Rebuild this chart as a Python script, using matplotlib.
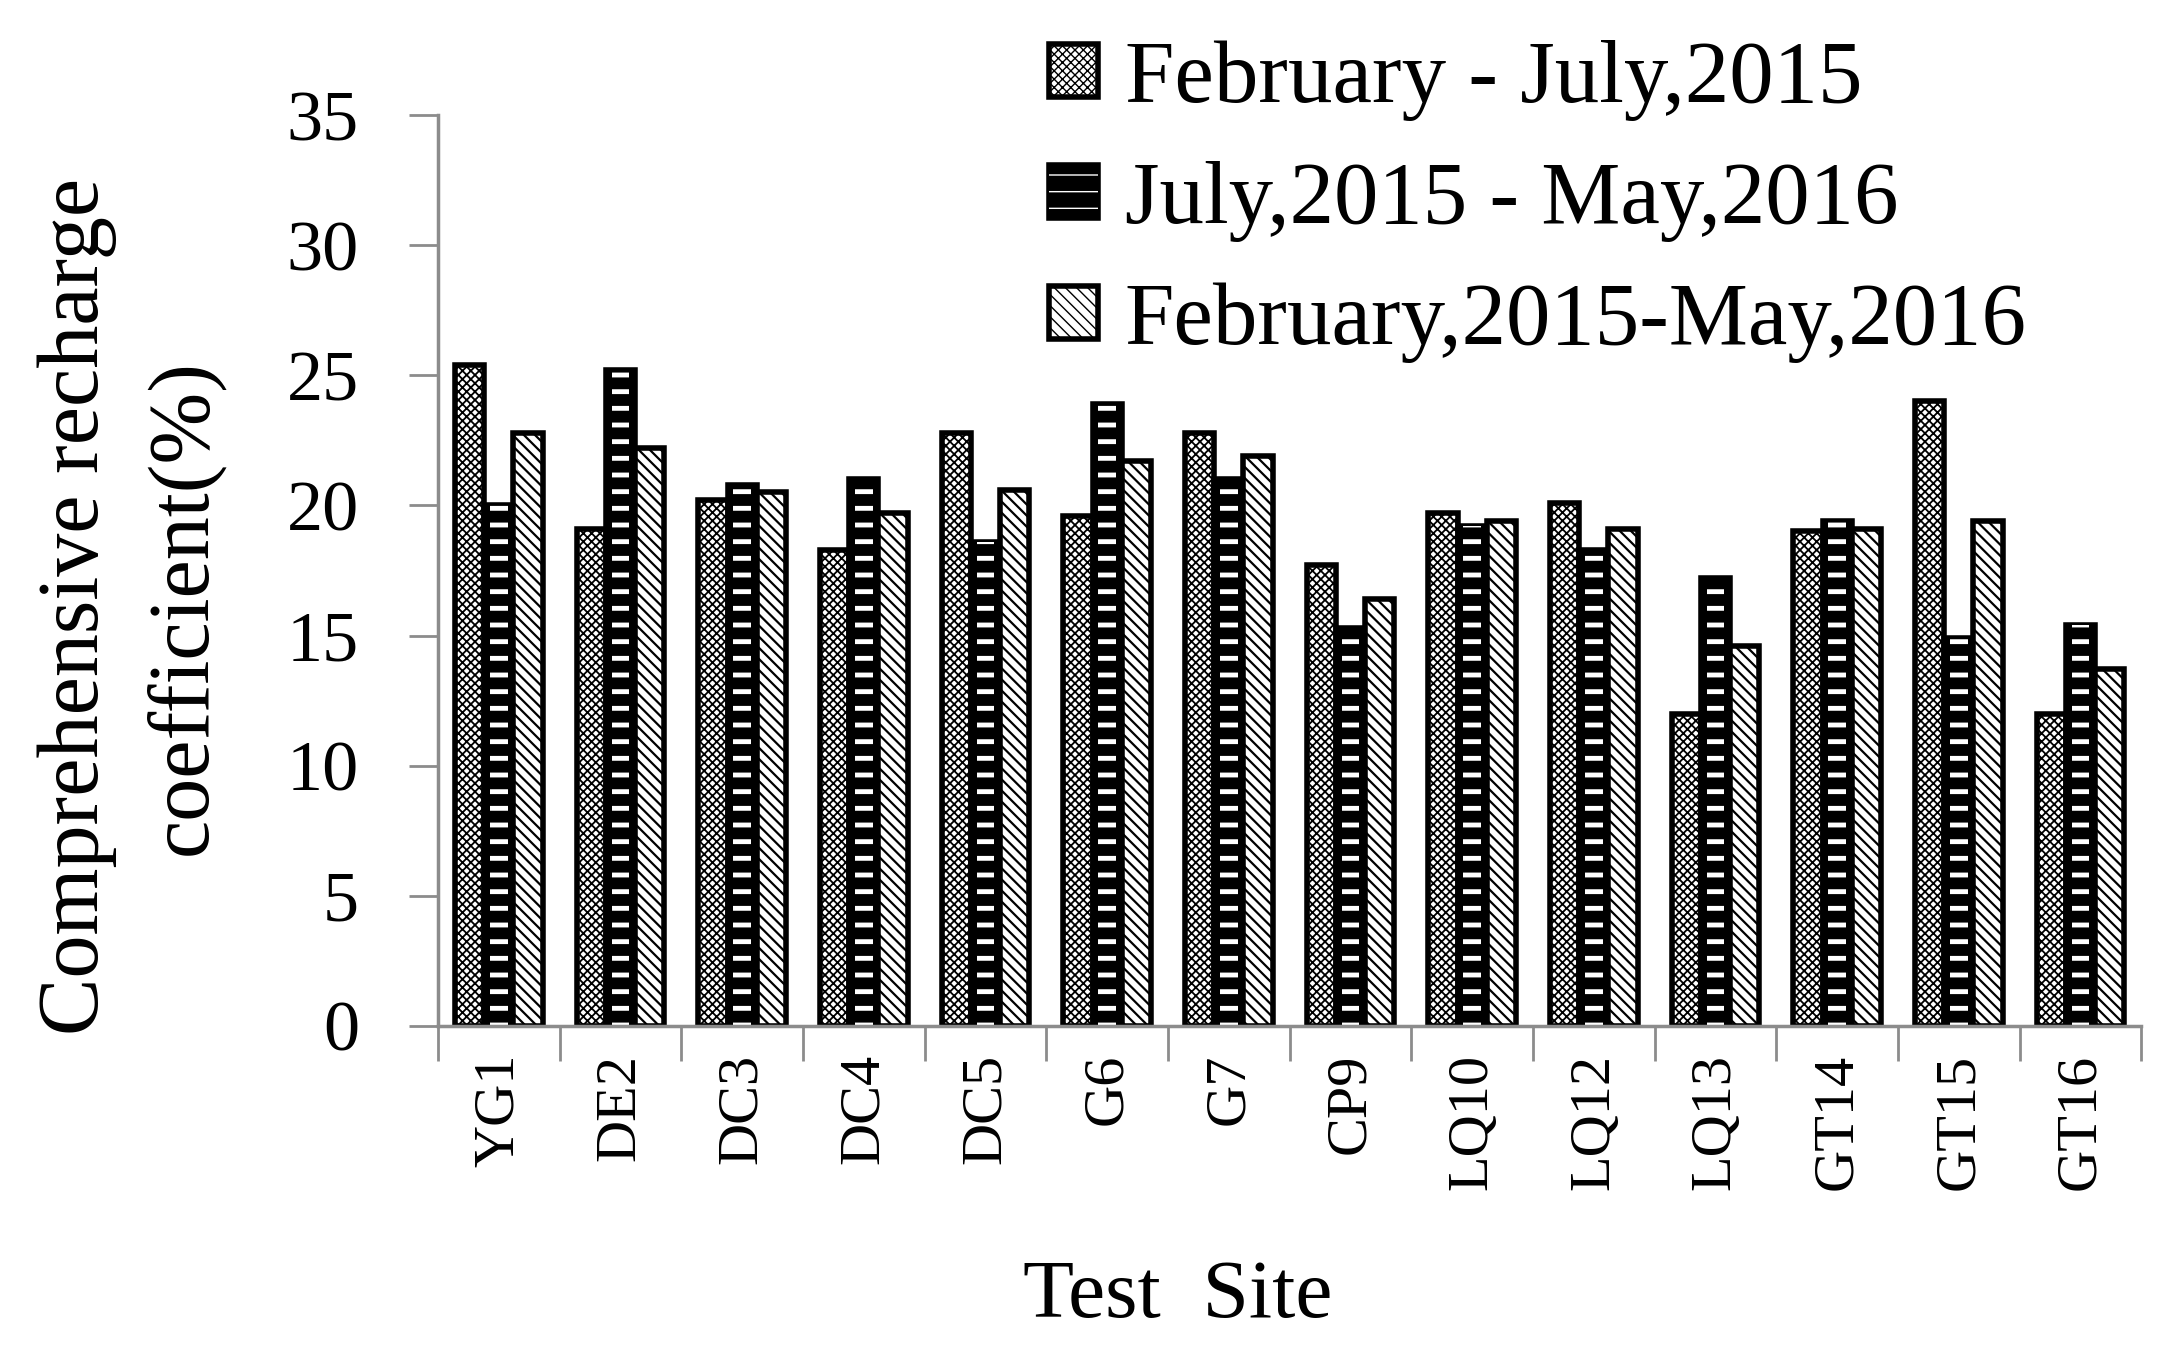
import numpy as np
import matplotlib
matplotlib.use("Agg")
import matplotlib.pyplot as plt
from matplotlib.legend_handler import HandlerTuple

plt.rcParams['font.family'] = ['Liberation Serif', 'DejaVu Serif']

# data
sites = ["YG1", "DE2", "DC3", "DC4", "DC5", "G6", "G7", "CP9",
         "LQ10", "LQ12", "LQ13", "GT14", "GT15", "GT16"]
feb_jul_2015 = [25.4, 19.1, 20.2, 18.3, 22.8, 19.6, 22.8, 17.7, 19.7, 20.1, 12.0, 19.0, 24.0, 12.0]
jul2015_may2016 = [20.0, 25.2, 20.8, 21.0, 18.6, 23.9, 21.0, 15.3, 19.2, 18.3, 17.2, 19.4, 14.9, 15.4]
feb2015_may2016 = [22.8, 22.2, 20.5, 19.7, 20.6, 21.7, 21.9, 16.4, 19.4, 19.1, 14.6, 19.1, 19.4, 13.7]
labels = ["February - July,2015", "July,2015 - May,2016", "February,2015-May,2016"]

x = np.arange(len(sites))
w = 0.24

fig = plt.figure(figsize=(21.74, 13.53), dpi=100)
ax = fig.add_axes([0.2015, 0.2417, 0.7835, 0.6733])

# series 1: white with dense cross hatch
with plt.rc_context({'hatch.linewidth': 1.3}):
    b1 = ax.bar(x - w, feb_jul_2015, w, facecolor='white', edgecolor='black',
                hatch='xxxx', linewidth=4)

# series 2: black bars with white dashes
b2a = ax.bar(x, jul2015_may2016, w, facecolor='black', edgecolor='black', linewidth=4)
with plt.rc_context({'hatch.linewidth': 3.5}):
    b2b = ax.bar(x, jul2015_may2016, w * 0.6, facecolor='none', edgecolor='white',
                 hatch='-', linewidth=0)

# series 3: white with diagonal hatch
with plt.rc_context({'hatch.linewidth': 1.6}):
    b3 = ax.bar(x + w, feb2015_may2016, w, facecolor='white', edgecolor='black',
                hatch='\\\\\\', linewidth=4)

ax.set_xlim(-0.5, len(sites) - 0.5)
ax.set_ylim(0, 35)
ax.set_yticks(np.arange(0, 36, 5))
ax.tick_params(axis='y', labelsize=52, length=21, width=2, color='#8c8c8c', pad=36)

ax.set_xticks(x)
ax.set_xticklabels(sites, rotation=90, fontsize=42)
ax.set_xticks(np.arange(-0.5, len(sites), 1), minor=True)
ax.tick_params(axis='x', which='major', length=0, pad=20)
ax.tick_params(axis='x', which='minor', length=25, width=2, color='#8c8c8c')

for s in ['top', 'right']:
    ax.spines[s].set_visible(False)
for s in ['left', 'bottom']:
    ax.spines[s].set_color('#8c8c8c')
    ax.spines[s].set_linewidth(2.5)

ax.set_xlabel("Test  Site", fontsize=60, labelpad=50)
ax.xaxis.label.set_x(0.434)
ax.set_ylabel("Comprehensive recharge\ncoefficient(%)", fontsize=62, labelpad=45,
              linespacing=1.45)
ax.yaxis.label.set_y(0.46)

fig.legend([b1, (b2a, b2b), b3], labels, loc='upper left',
           bbox_to_anchor=(0.458, 1.01), frameon=False, fontsize=64,
           handlelength=0.55, handleheight=0.55, handletextpad=0.3,
           labelspacing=0.45, borderpad=0.1,
           handler_map={tuple: HandlerTuple(ndivide=1)})

fig.savefig("out.png", dpi=100)
